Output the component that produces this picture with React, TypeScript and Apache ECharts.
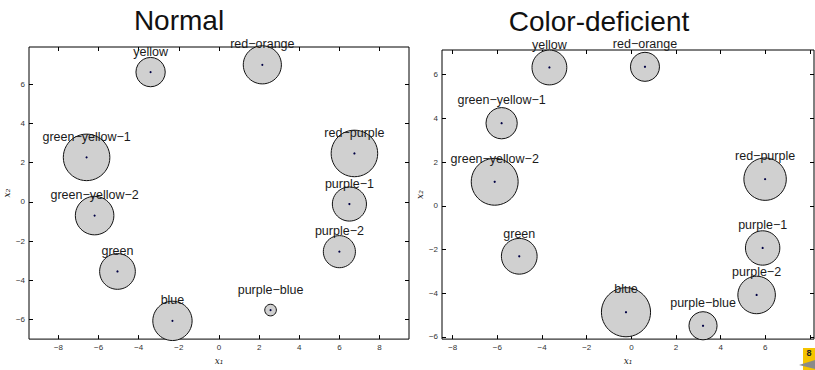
import React, { useEffect, useRef } from "react";
import * as echarts from "echarts";

const names = [
  "yellow",
  "red−orange",
  "green−yellow−1",
  "red−purple",
  "green−yellow−2",
  "purple−1",
  "purple−2",
  "green",
  "blue",
  "purple−blue",
];

// Normal panel
const normalX = [-3.41, 2.16, -6.6, 6.75, -6.2, 6.5, 6.0, -5.06, -2.32, 2.57];
const normalY = [6.62, 6.99, 2.27, 2.47, -0.7, -0.11, -2.54, -3.55, -6.07, -5.52];
const normalR = [0.73, 0.95, 1.16, 1.16, 0.96, 0.85, 0.8, 0.89, 0.98, 0.29];

// Color-deficient panel
const deficientX = [-3.67, 0.61, -5.81, 5.99, -6.12, 5.88, 5.61, -5.02, -0.24, 3.21];
const deficientY = [6.33, 6.36, 3.78, 1.22, 1.1, -1.93, -4.08, -2.31, -4.87, -5.49];
const deficientR = [0.78, 0.65, 0.7, 0.95, 1.05, 0.77, 0.84, 0.8, 1.1, 0.63];

const titles = ["Normal", "Color-deficient"];
const pageNumber = "8";
const xTicks = [-8, -6, -4, -2, 0, 2, 4, 6, 8];
// the right panel's "8" tick label is hidden under the page badge
const xTickLabelsDeficient = [-8, -6, -4, -2, 0, 2, 4, 6];
const yTicksNormal = [-6, -4, -2, 0, 2, 4, 6];
const yTicksDeficient = [-6, -4, -2, 0, 2, 4, 6];

const LABEL_DY = 1.04;

function buildData(xs: number[], ys: number[], rs: number[]) {
  return xs.map((x, i) => [x, ys[i], rs[i], i]);
}

const minusFmt = (v: number) => String(v).replace("-", "−");

export default function App() {
  const ref = useRef<HTMLDivElement>(null);
  useEffect(() => {
    if (!ref.current) return;
    const chart = echarts.init(ref.current, undefined, { renderer: "svg" });

    const renderItem = (params: any, api: any) => {
      const x = api.value(0);
      const y = api.value(1);
      const r = api.value(2);
      const idx = api.value(3);
      const c = api.coord([x, y]);
      const rp = api.size([r, 0])[0];
      const ly = api.coord([x, y + LABEL_DY])[1];
      return {
        type: "group",
        children: [
          {
            type: "circle",
            shape: { cx: c[0], cy: c[1], r: rp },
            style: { fill: "#d0d0d0", stroke: "#111", lineWidth: 1 },
          },
          {
            type: "circle",
            shape: { cx: c[0], cy: c[1], r: 1.1 },
            style: { fill: "#000044" },
          },
          {
            type: "text",
            x: c[0],
            y: ly,
            style: {
              text: names[idx],
              fill: "#1a1a1a",
              fontFamily: "Liberation Sans",
              fontSize: 12.5,
              align: "center",
              verticalAlign: "middle",
            },
          },
        ],
      };
    };

    const tickLabel = {
      fontFamily: "Liberation Sans",
      fontSize: 8,
      color: "#333",
      formatter: minusFmt,
    };
    const axisNameStyle = {
      fontFamily: "DejaVu Serif",
      fontStyle: "italic" as const,
      fontSize: 9,
      color: "#222",
    };

    const mkX = (
      grid: number,
      min: number,
      max: number,
      bottom: boolean,
      gap: number,
      labels: number[]
    ) => ({
      type: "value",
      gridIndex: grid,
      min,
      max,
      position: bottom ? "bottom" : "top",
      splitLine: { show: false },
      axisLine: { show: false, onZero: false },
      axisTick: {
        show: true,
        inside: true,
        length: 4,
        customValues: xTicks,
        lineStyle: { color: "#000", width: 1 },
      },
      axisLabel: bottom
        ? { show: true, margin: 4, customValues: labels, ...tickLabel }
        : { show: false },
      name: bottom ? "x₁" : "",
      nameLocation: "middle",
      nameGap: gap,
      nameTextStyle: axisNameStyle,
    });
    const mkY = (
      grid: number,
      min: number,
      max: number,
      left: boolean,
      ticks: number[],
      gap: number
    ) => ({
      type: "value",
      gridIndex: grid,
      min,
      max,
      position: left ? "left" : "right",
      splitLine: { show: false },
      axisLine: { show: false, onZero: false },
      axisTick: {
        show: true,
        inside: true,
        length: 4,
        customValues: ticks,
        lineStyle: { color: "#000", width: 1 },
      },
      axisLabel: left
        ? { show: true, margin: 4, customValues: ticks, ...tickLabel }
        : { show: false },
      name: left ? "x₂" : "",
      nameLocation: "middle",
      nameGap: gap,
      nameRotate: 90,
      nameTextStyle: axisNameStyle,
    });

    chart.setOption({
      animation: false,
      backgroundColor: "#ffffff",
      grid: [
        {
          left: 29,
          top: 47,
          width: 380,
          height: 300,
          show: true,
          borderColor: "#000",
          borderWidth: 1,
          backgroundColor: "transparent",
        },
        {
          left: 442,
          top: 50,
          width: 372,
          height: 295,
          show: true,
          borderColor: "#000",
          borderWidth: 1,
          backgroundColor: "transparent",
        },
      ],
      xAxis: [
        mkX(0, -9.47, 9.47, true, 12, xTicks),
        mkX(0, -9.47, 9.47, false, 0, xTicks),
        mkX(1, -8.48, 8.18, true, 14, xTickLabelsDeficient),
        mkX(1, -8.48, 8.18, false, 0, xTickLabelsDeficient),
      ],
      yAxis: [
        mkY(0, -7.0, 7.9, true, yTicksNormal, 15),
        mkY(0, -7.0, 7.9, false, yTicksNormal, 0),
        mkY(1, -6.1, 7.13, true, yTicksDeficient, 17),
        mkY(1, -6.1, 7.13, false, yTicksDeficient, 0),
      ],
      series: [
        {
          type: "custom",
          xAxisIndex: 0,
          yAxisIndex: 0,
          clip: false,
          renderItem,
          data: buildData(normalX, normalY, normalR),
        },
        {
          type: "custom",
          xAxisIndex: 2,
          yAxisIndex: 2,
          clip: false,
          renderItem,
          data: buildData(deficientX, deficientY, deficientR),
        },
      ],
      graphic: [
        {
          type: "text",
          x: 179,
          y: 20,
          style: {
            text: titles[0],
            fontFamily: "Liberation Sans",
            fontSize: 28,
            fill: "#111",
            align: "center",
            verticalAlign: "middle",
          },
        },
        {
          type: "text",
          x: 599,
          y: 21,
          style: {
            text: titles[1],
            fontFamily: "Liberation Sans",
            fontSize: 28,
            fill: "#111",
            align: "center",
            verticalAlign: "middle",
          },
        },
        {
          type: "rect",
          shape: { x: 803, y: 348, width: 12, height: 22 },
          style: { fill: "#f5c400" },
        },
        {
          type: "text",
          x: 809,
          y: 353,
          style: {
            text: pageNumber,
            fontFamily: "Liberation Sans",
            fontSize: 9,
            fontWeight: "bold",
            fill: "#222",
            align: "center",
            verticalAlign: "middle",
          },
        },
        {
          type: "polygon",
          shape: { points: [[799, 365], [815, 360], [815, 369]] },
          style: { fill: "#8a8a8a" },
        },
      ],
    });
    return () => chart.dispose();
  }, []);
  return (
    <div
      ref={ref}
      style={{ position: "fixed", left: 0, top: 0, width: 815, height: 370 }}
    />
  );
}
